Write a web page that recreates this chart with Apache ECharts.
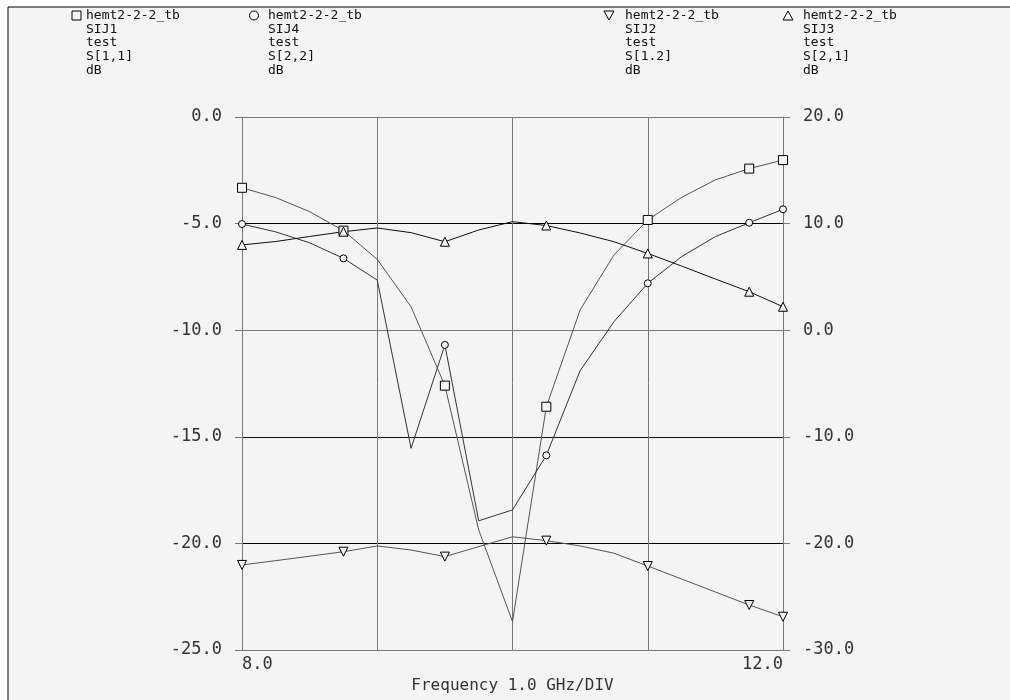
<!DOCTYPE html>
<html lang="en">
<head>
  <meta charset="UTF-8">
  <title>S-parameters</title>
  <script src="https://cdn.jsdelivr.net/npm/echarts@6/dist/echarts.min.js"></script>
</head>
<body style="margin:0">
<div id="main" style="width: 1010px; height: 700px"></div>
<script>

  // frequency sweep, GHz
  var freq = [8, 8.25, 8.5, 8.75, 9, 9.25, 9.5, 9.75, 10, 10.25, 10.5, 10.75, 11, 11.25, 11.5, 11.75, 12];

  // left axis (dB)
  var s11 = [-3.32, -3.78, -4.44, -5.33, -6.68, -8.9, -12.6, -19.37, -23.67, -13.59, -9.05, -6.47, -4.83, -3.77, -2.95, -2.42, -2.02];
  var s22 = [-5.02, -5.39, -5.9, -6.63, -7.65, -15.54, -10.69, -18.94, -18.43, -15.87, -11.9, -9.6, -7.8, -6.55, -5.61, -4.96, -4.33];
  // right axis (dB)
  var s12 = [-22.02, -21.62, -21.2, -20.78, -20.24, -20.62, -21.24, -20.3, -19.38, -19.74, -20.24, -20.92, -22.12, -23.34, -24.56, -25.78, -26.88];
  var s21 = [8.0, 8.32, 8.79, 9.24, 9.59, 9.15, 8.3, 9.4, 10.18, 9.82, 9.12, 8.3, 7.2, 6.02, 4.8, 3.61, 2.2];

  var legendLines = [
    ['hemt2-2-2_tb', 'SIJ1', 'test', 'S[1,1]', 'dB'],
    ['hemt2-2-2_tb', 'SIJ4', 'test', 'S[2,2]', 'dB'],
    ['hemt2-2-2_tb', 'SIJ2', 'test', 'S[1.2]', 'dB'],
    ['hemt2-2-2_tb', 'SIJ3', 'test', 'S[2,1]', 'dB']
  ];
  var xTitle = 'Frequency 1.0 GHz/DIV';

  var bg = '#f4f4f4';
  var mono = 'DejaVu Sans Mono';
  var downTri = 'path://M0,0 L10,0 L5,9 Z';

  var chartDom = document.getElementById('main');
  var myChart = echarts.init(chartDom);

  function pairs(ys) {
    return ys.map(function (y, i) { return [freq[i], y]; });
  }

  // marker on every third sweep point plus the last one
  function markSize(size) {
    return function (v, p) {
      return (p.dataIndex % 3 === 0 || p.dataIndex === freq.length - 1) ? size : 0;
    };
  }

  function makeSeries(name, ys, axis, symbol, size, lineColor) {
    return {
      name: name,
      type: 'line',
      yAxisIndex: axis,
      data: pairs(ys),
      symbol: symbol,
      symbolSize: markSize(size),
      showAllSymbol: true,
      animation: false,
      lineStyle: { color: lineColor, width: 1 },
      itemStyle: { color: bg, borderColor: '#000', borderWidth: 1 }
    };
  }

  var legendX = [86, 268, 625, 803];
  var graphics = [
    {
      type: 'rect', z: -100,
      shape: { x: 8, y: 7, width: 1100, height: 800 },
      style: { fill: bg, stroke: '#000', lineWidth: 1 }
    },
    { type: 'rect', shape: { x: 72, y: 11, width: 9, height: 9 }, style: { fill: 'none', stroke: '#000' } },
    { type: 'circle', shape: { cx: 254, cy: 15.5, r: 4.5 }, style: { fill: 'none', stroke: '#000' } },
    { type: 'polygon', shape: { points: [[604, 11], [614, 11], [609, 20]] }, style: { fill: 'none', stroke: '#000' } },
    { type: 'polygon', shape: { points: [[783, 20], [793, 20], [788, 11]] }, style: { fill: 'none', stroke: '#000' } }
  ];
  legendLines.forEach(function (lines, i) {
    graphics.push({
      type: 'text',
      left: legendX[i],
      top: 9,
      style: {
        text: lines.join('\n'),
        font: '13px "' + mono + '"',
        lineHeight: 13.6,
        fill: '#111'
      }
    });
  });

  var tickFont = { fontFamily: mono, fontSize: 17, color: '#333' };

  var option = {
    backgroundColor: '#fff',
    animation: false,
    graphic: graphics,
    grid: { left: 242, right: 227, top: 117, bottom: 50 },
    xAxis: {
      type: 'value',
      min: 8, max: 12, interval: 1,
      name: xTitle,
      nameLocation: 'middle',
      nameGap: 28,
      nameTextStyle: { fontFamily: mono, fontSize: 16, color: '#333' },
      axisLine: { show: false },
      axisTick: { show: false },
      axisLabel: Object.assign({
        margin: 6,
        alignMinLabel: 'left',
        alignMaxLabel: 'right',
        formatter: function (v) { return (v === 8 || v === 12) ? v.toFixed(1) : ''; }
      }, tickFont),
      splitLine: { show: true, lineStyle: { color: '#777', width: 1 } }
    },
    yAxis: [
      {
        type: 'value',
        min: -25, max: 0, interval: 5,
        axisLine: { show: true, lineStyle: { color: '#777' } },
        axisTick: { show: true, length: 7, lineStyle: { color: '#777' } },
        axisLabel: Object.assign({
          margin: 20,
          formatter: function (v) { return v.toFixed(1); }
        }, tickFont),
        splitLine: {
          show: true,
          lineStyle: { color: ['#777', '#000', '#111', '#777', '#000', '#777'], width: 1 }
        }
      },
      {
        type: 'value',
        min: -30, max: 20, interval: 10,
        position: 'right',
        axisLine: { show: true, lineStyle: { color: '#777' } },
        axisTick: { show: true, length: 7, lineStyle: { color: '#777' } },
        axisLabel: Object.assign({
          margin: 20,
          formatter: function (v) { return v.toFixed(1); }
        }, tickFont),
        splitLine: { show: false }
      }
    ],
    series: [
      makeSeries('S[1,1]', s11, 0, 'rect', 9, '#555'),
      makeSeries('S[2,2]', s22, 0, 'circle', 7, '#333'),
      makeSeries('S[1,2]', s12, 1, downTri, 9, '#555'),
      makeSeries('S[2,1]', s21, 1, 'triangle', 9, '#111')
    ]
  };

  option && myChart.setOption(option);

</script>
</body>
</html>
